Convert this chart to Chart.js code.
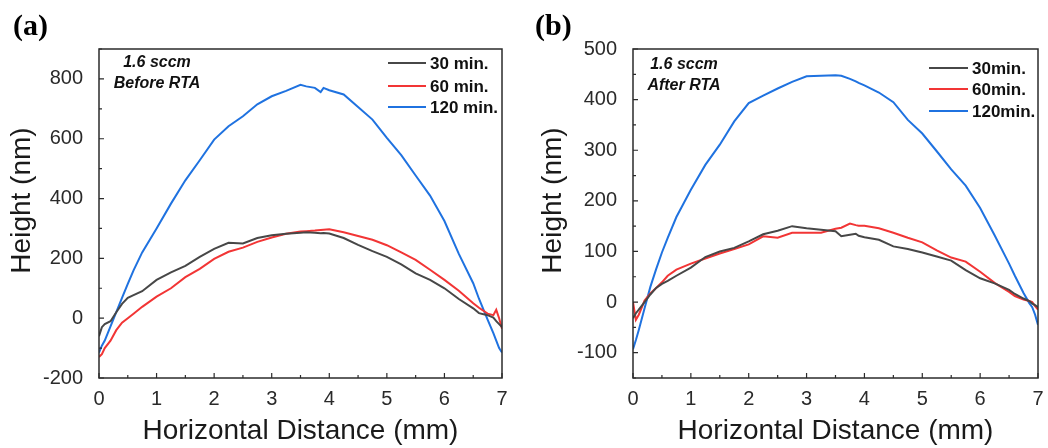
<!DOCTYPE html>
<html>
<head>
<meta charset="utf-8">
<script src="https://cdn.jsdelivr.net/npm/chart.js@4/dist/chart.umd.min.js"></script>
<style>
  body { margin: 0; background: #fff; }
  .panel { position: absolute; top: 0; width: 524px; height: 448px; }
</style>
</head>
<body>
<div class="panel" style="left:0"><canvas id="chartA"></canvas></div>
<div class="panel" style="left:524px"><canvas id="chartB"></canvas></div>
<script>
// horizontal distance (mm), shared by every profile
const distance = [0, 0.05, 0.1, 0.2, 0.3, 0.4, 0.5, 0.6, 0.75, 1, 1.25, 1.5, 1.75, 2, 2.25, 2.5, 2.75, 3, 3.25, 3.5,
  3.6, 3.75, 3.85, 3.9, 4, 4.25, 4.5, 4.75, 5, 5.25, 5.5, 5.75, 6, 6.25, 6.5, 6.6, 6.75, 6.85, 6.9, 6.95, 7];

// (a) before RTA, height in nm
const before30 = [-60, -30, -20, -10, 20, 48, 68, 77, 90, 128, 153, 175, 205, 232, 252, 250, 268, 277, 282, 286,
  287, 286, 284, 285, 283, 268, 245, 224, 205, 180, 150, 128, 100, 64, 33, 17, 10, 2, -10, -20, -30];
const before60 = [-130, -120, -100, -75, -40, -15, 0, 15, 38, 72, 100, 137, 165, 198, 222, 236, 255, 270, 282, 290,
  291, 293, 295, 296, 297, 287, 275, 262, 244, 220, 195, 162, 128, 92, 50, 35, 15, 10, 28, 0, -35];
const before120 = [-115, -92, -75, -27, 20, 68, 115, 160, 220, 300, 383, 461, 528, 597, 642, 675, 715, 742, 760, 780,
  775, 770, 756, 770, 762, 748, 706, 664, 603, 545, 477, 410, 325, 215, 117, 65, -5, -50, -75, -100, -115];

// (b) after RTA, height in nm
const after30 = [-32, -22, -15, 0, 15, 28, 36, 42, 52, 68, 89, 100, 107, 120, 134, 141, 150, 146, 143, 140,
  130, 133, 135, 131, 128, 123, 110, 105, 98, 90, 82, 63, 47, 37, 24, 16, 7, 2, -3, -6, -10];
const after60 = [0, -35, -25, 3, 17, 28, 39, 52, 64, 76, 86, 96, 105, 114, 130, 127, 137, 137, 137, 145,
  147, 155, 152, 151, 151, 146, 137, 127, 118, 102, 88, 80, 60, 38, 20, 12, 5, 2, 0, -8, -15];
const after120 = [-93, -75, -55, -12, 30, 65, 98, 127, 168, 222, 271, 311, 357, 393, 408, 422, 435, 446, 447, 448,
  447, 441, 436, 433, 428, 414, 395, 360, 333, 298, 262, 230, 186, 132, 76, 52, 18, -2, -10, -25, -45];

const xTicks = [0, 1, 2, 3, 4, 5, 6, 7];
const yTicksA = [-200, 0, 200, 400, 600, 800];
const yTicksB = [-100, 0, 100, 200, 300, 400, 500];
const labelsA = ['30 min.', '60 min.', '120 min.'];
const labelsB = ['30min.', '60min.', '120min.'];
const colors = ['#474747', '#f23535', '#1f72e0'];

const FONT = "'Liberation Sans', Arial, sans-serif";

function toPoints(ys) {
  return distance.map((x, i) => ({ x: x, y: ys[i] }));
}

// frame, inward ticks, legend, notes and panel letter
const decor = {
  id: 'decor',
  afterDatasetsDraw(chart, args, o) {
    const { ctx, chartArea: a, scales: { x, y } } = chart;
    ctx.save();
    ctx.strokeStyle = '#2b2b2b';
    ctx.lineWidth = 1.2;
    ctx.beginPath();
    for (let v = 0; v <= 7.001; v += 0.5) {
      const px = x.getPixelForValue(v);
      const len = Math.abs(v % 1) < 0.01 ? 5 : 3;
      ctx.moveTo(px, a.bottom);
      ctx.lineTo(px, a.bottom - len);
    }
    for (let v = o.yMin; v <= o.yMax + 0.01; v += o.yMinor) {
      const py = y.getPixelForValue(v);
      const len = Math.abs(v % (o.yMinor * 2)) < 0.01 ? 5 : 3;
      ctx.moveTo(a.left, py);
      ctx.lineTo(a.left + len, py);
    }
    ctx.stroke();

    ctx.lineWidth = 1.5;
    ctx.strokeRect(a.left, a.top, a.right - a.left, a.bottom - a.top);

    // legend
    ctx.font = 'bold 17px ' + FONT;
    ctx.textBaseline = 'middle';
    ctx.textAlign = 'left';
    chart.data.datasets.forEach((ds, i) => {
      const ly = o.legY[i];
      ctx.strokeStyle = ds.borderColor;
      ctx.lineWidth = 2;
      ctx.beginPath();
      ctx.moveTo(o.legX0, ly);
      ctx.lineTo(o.legX1, ly);
      ctx.stroke();
      ctx.fillStyle = '#111';
      ctx.fillText(ds.label, o.legX1 + 4, ly + 1);
    });

    // condition note
    ctx.font = 'italic bold 16px ' + FONT;
    ctx.textAlign = 'center';
    ctx.fillStyle = '#111';
    o.note.forEach((t, i) => ctx.fillText(t, o.noteX, o.noteY[i]));

    // y axis title
    ctx.save();
    ctx.translate(o.yTitleX, (a.top + a.bottom) / 2 - 13);
    ctx.rotate(-Math.PI / 2);
    ctx.font = '28px ' + FONT;
    ctx.fillStyle = '#1a1a1a';
    ctx.fillText('Height (nm)', 0, 0);
    ctx.restore();

    // panel letter
    ctx.font = "bold 30px 'Liberation Serif', 'Times New Roman', serif";
    ctx.textAlign = 'left';
    ctx.textBaseline = 'alphabetic';
    ctx.fillStyle = '#000';
    ctx.fillText(o.letter, o.letterX, 35);
    ctx.restore();
  }
};

function makeChart(id, series, labels, yMin, yMax, yTicks, yWidth, padRight, deco) {
  return new Chart(document.getElementById(id), {
    type: 'scatter',
    data: {
      datasets: series.map((s, i) => ({
        label: labels[i],
        data: toPoints(s),
        showLine: true,
        borderColor: colors[i],
        borderWidth: 2,
        pointRadius: 0,
        tension: 0
      }))
    },
    options: {
      responsive: true,
      maintainAspectRatio: false,
      animation: false,
      layout: { padding: { top: 49, right: padRight, left: 0, bottom: 0 } },
      scales: {
        x: {
          min: 0, max: 7,
          grid: { display: false },
          border: { display: false },
          afterBuildTicks: s => { s.ticks = xTicks.map(v => ({ value: v })); },
          afterFit: s => { s.height = 70; },
          ticks: { font: { size: 20, family: FONT }, color: '#2a2a2a', padding: 1, maxRotation: 0 },
          title: {
            display: true, text: 'Horizontal Distance (mm)', color: '#1a1a1a',
            font: { size: 28, family: FONT }, padding: { top: 0, bottom: 0 }
          }
        },
        y: {
          min: yMin, max: yMax,
          grid: { display: false },
          border: { display: false },
          afterBuildTicks: s => { s.ticks = yTicks.map(v => ({ value: v })); },
          afterFit: s => { s.width = yWidth; },
          ticks: { font: { size: 20, family: FONT }, color: '#2a2a2a', padding: 8 }
        }
      },
      plugins: {
        legend: { display: false },
        tooltip: { enabled: false },
        decor: deco
      }
    },
    plugins: [decor]
  });
}

makeChart('chartA', [before30, before60, before120], labelsA, -200, 900, yTicksA, 99, 22, {
  yMin: -200, yMax: 900, yMinor: 100,
  legX0: 388, legX1: 426, legY: [63, 86, 107],
  note: ['1.6 sccm', 'Before RTA'], noteX: 157, noteY: [63, 84],
  yTitleX: 22, letter: '(a)', letterX: 13
});

makeChart('chartB', [after30, after60, after120], labelsB, -150, 500, yTicksB, 109, 10, {
  yMin: -150, yMax: 500, yMinor: 50,
  legX0: 405, legX1: 444, legY: [68, 89, 111],
  note: ['1.6 sccm', 'After RTA'], noteX: 160, noteY: [65, 86],
  yTitleX: 29, letter: '(b)', letterX: 11
});
</script>
</body>
</html>
